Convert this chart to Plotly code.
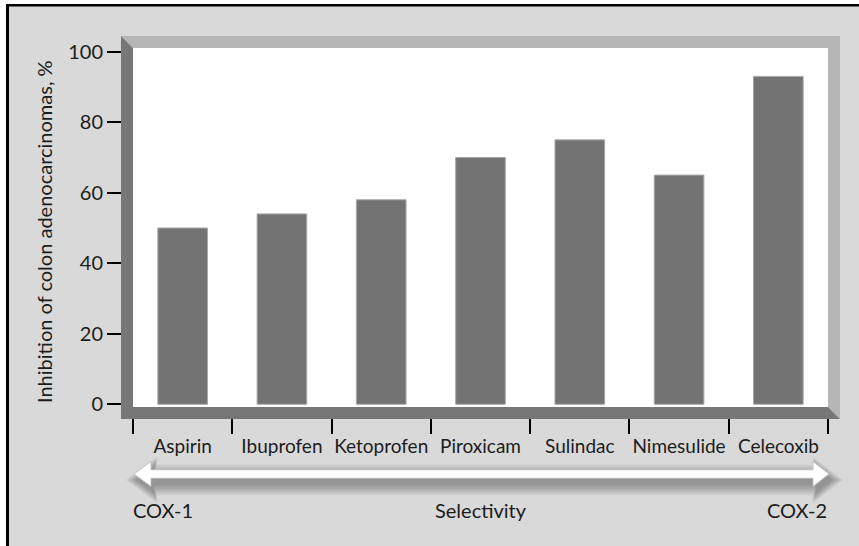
import plotly.graph_objects as go

# ---- data ----
categories = ["Aspirin", "Ibuprofen", "Ketoprofen", "Piroxicam", "Sulindac", "Nimesulide", "Celecoxib"]
inhibition = [50, 54, 58, 70, 75, 65, 93]
y_tick_vals = [0, 20, 40, 60, 80, 100]
y_title = "Inhibition of colon adenocarcinomas, %"
left_label = "COX-1"
mid_label = "Selectivity"
right_label = "COX-2"

# ---- geometry (pixels) ----
W_FIG, H_FIG = 859, 546
L, R, T, B = 133, 828, 48, 407
PW, PH = R - L, B - T
BAND = 12

def px(x):
    return (x - L) / PW

def py(y):
    return (B - y) / PH

def path(points):
    return "M " + " L ".join(f"{px(x):.5f},{py(y):.5f}" for x, y in points) + " Z"

FONT = "Lato, 'Open Sans', sans-serif"
FS = 20
TXT = "#1c1c1c"

fig = go.Figure()
fig.add_trace(go.Bar(
    x=categories, y=inhibition, width=0.5,
    marker=dict(color="#737373", line=dict(color="#a8a8a8", width=1)),
    hoverinfo="x+y",
))

shapes = []
# bevelled frame: light top/right, dark left/bottom
shapes.append(dict(type="path", xref="paper", yref="paper", layer="above", line=dict(width=0),
                   fillcolor="#b6b6b6",
                   path=path([(L - BAND, T - BAND), (R + BAND, T - BAND), (R + BAND, B + BAND),
                              (R, B), (R, T), (L, T)])))
shapes.append(dict(type="path", xref="paper", yref="paper", layer="above", line=dict(width=0),
                   fillcolor="#777777",
                   path=path([(L - BAND, T - BAND), (L, T), (L, B), (R, B), (R + BAND, B + BAND),
                              (L - BAND, B + BAND)])))
# white margin strips and black border lines (left/top)
shapes.append(dict(type="rect", xref="paper", yref="paper", layer="above", line=dict(width=0),
                   fillcolor="white", x0=px(0), x1=px(6), y0=py(0), y1=py(H_FIG)))
shapes.append(dict(type="rect", xref="paper", yref="paper", layer="above", line=dict(width=0),
                   fillcolor="white", x0=px(0), x1=px(W_FIG), y0=py(0), y1=py(4)))
shapes.append(dict(type="rect", xref="paper", yref="paper", layer="above", line=dict(width=0),
                   fillcolor="black", x0=px(6), x1=px(9), y0=py(4), y1=py(H_FIG)))
shapes.append(dict(type="rect", xref="paper", yref="paper", layer="above", line=dict(width=0),
                   fillcolor="black", x0=px(6), x1=px(W_FIG), y0=py(4), y1=py(6.5)))

# selectivity arrow (double-headed) with soft shadow
XL, XR = 134, 829
HL, HR = 151, 813
HEAD, SHAFT = 12.5, 4.2

def arrow(cy, k=0.0, dx=0.0):
    return [(XL - k + dx, cy), (HL + 0.3 * k + dx, cy - HEAD - k), (HL + 0.3 * k + dx, cy - SHAFT - k),
            (HR - 0.3 * k + dx, cy - SHAFT - k), (HR - 0.3 * k + dx, cy - HEAD - k), (XR + k + dx, cy),
            (HR - 0.3 * k + dx, cy + HEAD + k), (HR - 0.3 * k + dx, cy + SHAFT + k),
            (HL + 0.3 * k + dx, cy + SHAFT + k), (HL + 0.3 * k + dx, cy + HEAD + k)]

CY = 474
for k in [11, 9, 7, 5, 3, 1]:
    shapes.append(dict(type="path", xref="paper", yref="paper", layer="above", line=dict(width=0),
                       fillcolor="black", opacity=0.06, path=path(arrow(CY + 6, k, 3))))
shapes.append(dict(type="path", xref="paper", yref="paper", layer="above",
                   line=dict(width=0.8, color="#bdbdbd"), fillcolor="white", path=path(arrow(CY))))

annotations = [
    dict(text=y_title, xref="paper", yref="paper", x=px(44), y=py(232), textangle=-90,
         showarrow=False, font=dict(family=FONT, size=FS, color=TXT), xanchor="center", yanchor="middle"),
    dict(text=left_label, xref="paper", yref="paper", x=px(131), y=py(510), showarrow=False,
         font=dict(family=FONT, size=FS, color=TXT), xanchor="left", yanchor="middle"),
    dict(text=mid_label, xref="paper", yref="paper", x=px(481), y=py(510), showarrow=False,
         font=dict(family=FONT, size=FS, color=TXT), xanchor="center", yanchor="middle"),
    dict(text=right_label, xref="paper", yref="paper", x=px(829), y=py(510), showarrow=False,
         font=dict(family=FONT, size=FS, color=TXT), xanchor="right", yanchor="middle"),
]

fig.update_layout(
    width=W_FIG, height=H_FIG,
    margin=dict(l=L, r=W_FIG - R, t=T, b=H_FIG - B, pad=0),
    paper_bgcolor="#d9d9d9", plot_bgcolor="white",
    showlegend=False, bargap=0.5,
    font=dict(family=FONT, size=FS, color=TXT),
    shapes=shapes, annotations=annotations,
)
fig.update_xaxes(type="category", range=[-0.5, 6.5], showgrid=False, zeroline=False, showline=False,
                 ticks="outside", tickson="boundaries", ticklen=26, tickwidth=2, tickcolor="black",
                 ticklabelstandoff=26, tickangle=0,
                 tickfont=dict(family=FONT, size=FS - 1, color=TXT))
fig.update_yaxes(range=[-0.77, 101.05], tickvals=y_tick_vals, showgrid=False, zeroline=False,
                 showline=False, ticks="outside", ticklen=25, tickwidth=2, tickcolor="black",
                 tickfont=dict(family=FONT, size=FS, color=TXT))

fig.write_html("out.html", config={"displayModeBar": False},
               post_script="document.body.style.margin='0';")
